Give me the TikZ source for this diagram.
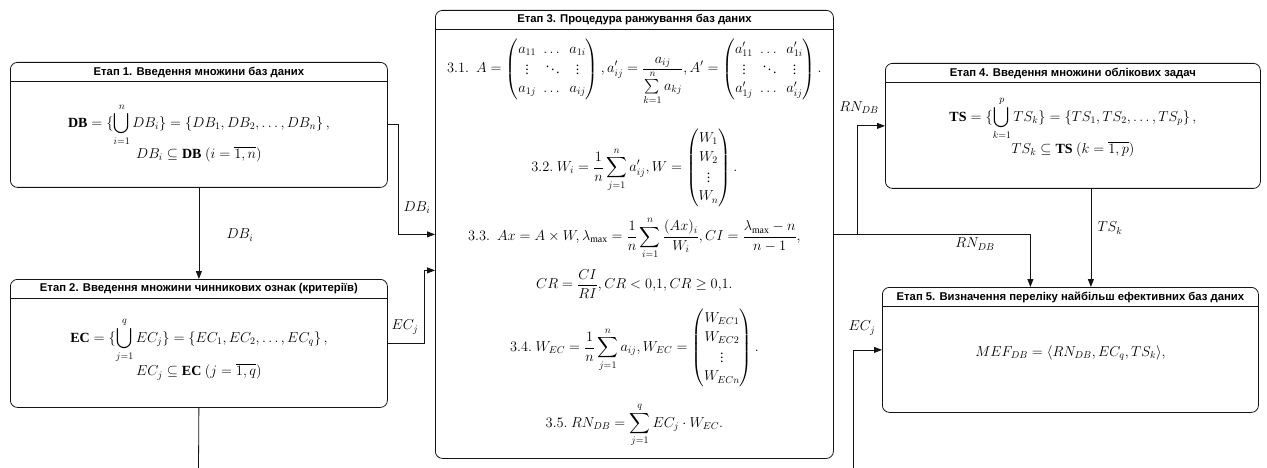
\documentclass[tikz,border=0pt]{standalone}
\usepackage{amsmath}
\usepackage{fontspec}
\setmainfont{Liberation Serif}
\newfontfamily\headfont{Liberation Sans}
\usepackage{tikz}
\usetikzlibrary{
	arrows.meta, positioning, calc
}
\definecolor{stagedark}     {RGB}{ 20,  20,  20}
\renewcommand{\arraystretch}{1.1}
\setlength{\arraycolsep}{3.6pt}

\tikzset{
	stagebox/.style={draw=stagedark, rounded corners=7pt, line width=0.8pt, inner sep=0pt, anchor=north west},
	headtext/.style={font=\headfont\bfseries\fontsize{11.3}{13}\selectfont, inner sep=0pt},
	formula/.style={font=\fontsize{14}{17}\selectfont, align=center, inner sep=0pt},
	flowlabel/.style={font=\fontsize{14.3}{17}\selectfont, inner sep=1pt},
	flow/.style={draw=stagedark, line width=0.8pt, -{Triangle[length=8pt,width=6pt]}},
	plainline/.style={draw=stagedark, line width=0.8pt}
}

\begin{document}
\begin{tikzpicture}[x=1pt,y=-1pt]
				\useasboundingbox (0,0) rectangle (1267,468);
				\node[stagebox, minimum width=377pt, minimum height=125pt] (st1) at (10,62) {};
				\node[stagebox, minimum width=377pt, minimum height=128pt] (st2) at (10,279) {};
				\node[stagebox, minimum width=398pt, minimum height=448pt] (st3) at (435,10) {};
				\node[stagebox, minimum width=375pt, minimum height=125pt] (st4) at (885,63) {};
				\node[stagebox, minimum width=376pt, minimum height=125pt] (st5) at (882,287) {};
				\foreach \s in {st1,st2,st3,st4,st5}{\draw[plainline] ([yshift=-19pt]\s.north west) -- ([yshift=-19pt]\s.north east);}
				\node[headtext] (h1) at ([yshift=-10pt]st1.north) {Етап 1. Введення множини баз даних};
				\node[headtext] (h2) at ([yshift=-10pt]st2.north) {Етап 2. Введення множини чинникових ознак (критеріїв)};
				\node[headtext] (h3) at ([yshift=-10pt]st3.north) {Етап 3. Процедура ранжування баз даних};
				\node[headtext] (h4) at ([yshift=-10pt]st4.north) {Етап 4. Введення множини облікових задач};
				\node[headtext] (h5) at ([yshift=-10pt]st5.north) {Етап 5. Визначення переліку найбільш ефективних баз даних};
				\node[formula] (f1) at ($(st1.north)+(0,71)$) {$\displaystyle \mathbf{DB}=\{\bigcup\limits_{i=1}^{n}DB_i\}=\left\{DB_1,DB_2,\ldots,DB_n\right\},$\\[0pt] $DB_i\subseteq\mathbf{DB}\ (i=\overline{1,n})$};
				\node[formula] (f2) at ($(st2.north)+(0,70)$) {$\displaystyle \mathbf{EC}=\{\bigcup\limits_{j=1}^{q}EC_j\}=\left\{EC_1,EC_2,\ldots,EC_q\right\},$\\[0pt] $EC_j\subseteq\mathbf{EC}\ (j=\overline{1,q})$};
				\node[formula] (f4) at ($(st4.north)+(0,64)$) {$\displaystyle \mathbf{TS}=\{\bigcup\limits_{k=1}^{p}TS_k\}=\left\{TS_1,TS_2,\ldots,TS_p\right\},$\\[0pt] $TS_k\subseteq\mathbf{TS}\ (k=\overline{1,p})$};
				\node[formula] (f5) at ($(st5.north)+(0,66)$) {$MEF_{DB}=\langle RN_{DB},EC_q,TS_k\rangle,$};
				\node[formula] (f31) at ($(st3.north)+(0,62)$) {$\displaystyle 3.1.\ \ A=\begin{pmatrix} a_{11} & \dots & a_{1i}\\ \vdots & \ddots & \vdots\\ a_{1j} & \dots & a_{ij}\end{pmatrix}, a'_{ij}=\frac{a_{ij}}{\sum\limits_{k=1}^{n}a_{kj}}, A'=\begin{pmatrix} a'_{11} & \dots & a'_{1i}\\ \vdots & \ddots & \vdots\\ a'_{1j} & \dots & a'_{ij}\end{pmatrix}.$};
				\node[formula] (f32) at ($(st3.north)+(0,158)$) {$\displaystyle 3.2.\ W_i=\frac{1}{n}\sum_{j=1}^{n}a'_{ij}, W=\begin{pmatrix} W_1\\ W_2\\ \vdots\\ W_n\end{pmatrix}.$};
				\node[formula] (f33) at ($(st3.north)+(0,228)$) {$\displaystyle 3.3.\ \ Ax=A\times W, \lambda_{\max}=\frac{1}{n}\sum_{i=1}^{n}\frac{(Ax)_i}{W_i}, CI=\frac{\lambda_{\max}-n}{n-1},$};
				\node[formula] (f33b) at ($(st3.north)+(0,274)$) {$\displaystyle CR=\frac{CI}{RI}, CR<0{,}1, CR\geq 0{,}1.$};
				\node[formula] (f34) at ($(st3.north)+(0,338)$) {$\displaystyle 3.4.\ W_{EC}=\frac{1}{n}\sum_{j=1}^{n}a_{ij}, W_{EC}=\begin{pmatrix} W_{EC1}\\ W_{EC2}\\ \vdots\\ W_{ECn}\end{pmatrix}.$};
				\node[formula] (f35) at ($(st3.north)+(0,415)$) {$\displaystyle 3.5.\ RN_{DB}=\sum_{j=1}^{q}EC_j\cdot W_{EC}.$};
				\coordinate (split) at ($(st3.east)+(24,0)$);
				\coordinate (ecin) at (853,468);
				\coordinate (ecout) at (198.5,468);
				\draw[flow] (st1.south) -- (st2.north);
				\draw[flow] (st1.east) -- ++(11,0) |- (st3.west);
				\draw[flow] (st2.east) -- ++(37,0) |- ([yshift=-36pt]st3.west);
				\draw[flow] (st3.east) -| ([xshift=-40pt]st5.north);
				\draw[flow] (split) |- (st4.west);
				\draw[flow] ([xshift=18pt]st4.south) -- ([xshift=18pt]st4.south |- st5.north);
				\draw[flow] (ecin) |- (st5.west);
				\draw[plainline] (st2.south) -- (ecout);
				\node[flowlabel] (l1) at (240,235) {$DB_i$};
				\node[flowlabel] (l2) at (417,208) {$DB_i$};
				\node[flowlabel] (l3) at (405,327) {$EC_j$};
				\node[flowlabel] (l4) at (859,108) {$RN_{DB}$};
				\node[flowlabel] (l5) at (975,244) {$RN_{DB}$};
				\node[flowlabel] (l6) at (1110,228) {$TS_k$};
				\node[flowlabel] (l7) at (862,328) {$EC_j$};
			\end{tikzpicture}
\end{document}
